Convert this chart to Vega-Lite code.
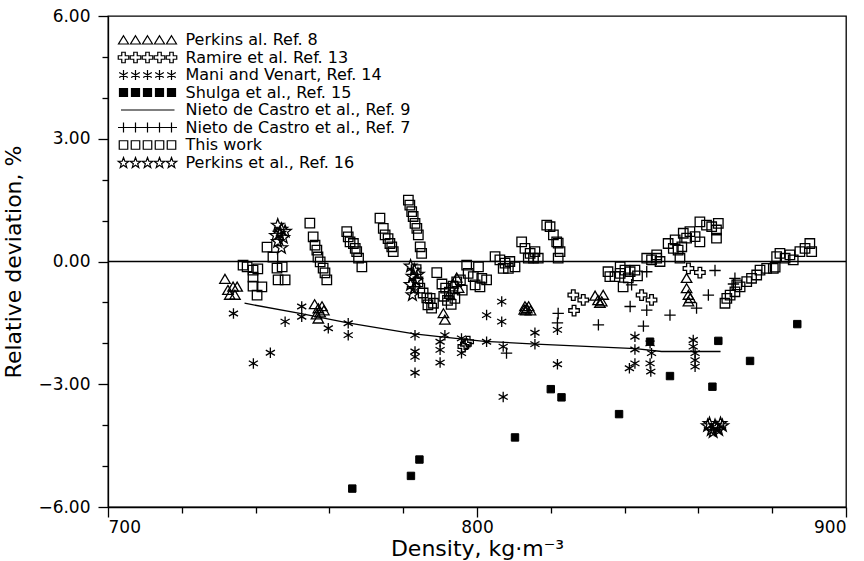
{
  "$schema": "https://vega.github.io/schema/vega-lite/v6.json",
  "autosize": {"type": "none"},
  "padding": {"left": 108, "top": 16, "right": 18, "bottom": 54},
  "width": 738,
  "height": 491,
  "background": "white",
  "config": {
    "font": "DejaVu Sans",
    "view": {"stroke": "black", "strokeWidth": 1.3},
    "axis": {"domainColor": "black", "domainWidth": 1.3, "tickColor": "black", "tickWidth": 1.3, "labelColor": "black", "titleColor": "black", "labelFont": "DejaVu Sans", "titleFont": "DejaVu Sans", "labelFontSize": 17, "titleFontSize": 22, "titleFontWeight": "normal", "grid": false, "labelOverlap": false}
  },
  "datasets": {
    "tw": [
      {"d":736.6,"v":-0.09},{"d":737.7,"v":-0.13},{"d":739.3,"v":-0.21},{"d":740.6,"v":-0.18},{"d":739.3,"v":-0.38},{"d":739.3,"v":-0.6},{"d":741.7,"v":-0.62},{"d":740.4,"v":-0.82},{"d":743.1,"v":0.35},{"d":744.7,"v":0.11},{"d":745.8,"v":-0.16},{"d":747.2,"v":-0.13},{"d":746.1,"v":-0.45},{"d":748,"v":-0.45},
      {"d":754.7,"v":0.94},{"d":755.6,"v":0.6},{"d":756.1,"v":0.4},{"d":756.6,"v":0.28},{"d":756.9,"v":0.11},{"d":757.5,"v":-0.01},{"d":758.3,"v":-0.16},{"d":758.8,"v":-0.28},{"d":759.3,"v":-0.45},
      {"d":764.7,"v":0.73},{"d":765.1,"v":0.6},{"d":765.6,"v":0.48},{"d":766.5,"v":0.44},{"d":767,"v":0.32},{"d":767.4,"v":0.24},{"d":767.9,"v":0.08},{"d":768.8,"v":-0.13},
      {"d":773.7,"v":1.06},{"d":774.6,"v":0.81},{"d":775.1,"v":0.65},{"d":775.9,"v":0.56},{"d":776.4,"v":0.44},{"d":776.9,"v":0.36},{"d":777.3,"v":0.24},
      {"d":781.4,"v":1.5},{"d":781.8,"v":1.38},{"d":782.3,"v":1.22},{"d":782.7,"v":1.1},{"d":783.2,"v":0.93},{"d":783.7,"v":0.81},{"d":784.1,"v":0.65},{"d":784.6,"v":0.36},{"d":785,"v":0.2},{"d":783.5,"v":-0.2},{"d":784,"v":-0.5},{"d":784.5,"v":-0.65},{"d":785.4,"v":-0.77},{"d":786.4,"v":-0.89},{"d":786.7,"v":-1.06},{"d":787.3,"v":-0.9},{"d":788.2,"v":-1.02},{"d":787.7,"v":-1.14},{"d":789.1,"v":-0.27},
      {"d":790.5,"v":-0.55},{"d":791.5,"v":-0.65},{"d":792.5,"v":-0.75},{"d":793.5,"v":-0.6},{"d":794.5,"v":-0.5},{"d":795.5,"v":-0.45},{"d":792,"v":-0.95},{"d":793,"v":-1.05},{"d":791,"v":-0.85},{"d":796,"v":-0.7},{"d":794,"v":-0.9},
      {"d":797.2,"v":-0.09},{"d":797.6,"v":-0.29},{"d":799,"v":-0.37},{"d":800.4,"v":-0.13},{"d":801.3,"v":-0.41},{"d":802.6,"v":-0.45},{"d":799.5,"v":-0.57},{"d":800.8,"v":-0.62},
      {"d":804.9,"v":0.12},{"d":806.2,"v":0.04},{"d":807.6,"v":-0.04},{"d":808.9,"v":0},{"d":810.3,"v":-0.13},{"d":807.1,"v":-0.17},{"d":808.5,"v":-0.17},
      {"d":812.1,"v":0.48},{"d":813,"v":0.32},{"d":814.4,"v":0.2},{"d":815.7,"v":0.24},{"d":813.9,"v":0.08},{"d":815.3,"v":0.08},{"d":816.6,"v":0.08},
      {"d":818.9,"v":0.89},{"d":819.8,"v":0.85},{"d":820.7,"v":0.65},{"d":821.6,"v":0.48},{"d":822,"v":0.45},{"d":822.5,"v":0.24},{"d":822,"v":0.08},
      {"d":835.5,"v":-0.25},{"d":836,"v":-0.37},{"d":837.4,"v":-0.37},{"d":838.8,"v":-0.29},{"d":840.1,"v":-0.21},{"d":841.5,"v":-0.25},{"d":842.8,"v":-0.21},{"d":839.6,"v":-0.62},{"d":838.8,"v":-0.13},{"d":843.5,"v":-0.35},{"d":841,"v":-0.4},
      {"d":846,"v":0.08},{"d":847.3,"v":0.04},{"d":848.7,"v":0.08},{"d":849.6,"v":0},{"d":848.7,"v":0.16},
      {"d":851.8,"v":0.44},{"d":853.2,"v":0.32},{"d":854.5,"v":0.28},{"d":855.5,"v":0.36},{"d":855,"v":0.08},{"d":853.7,"v":0.53},
      {"d":855.9,"v":0.69},{"d":857.7,"v":0.73},{"d":859.1,"v":0.61},{"d":860.4,"v":0.48},{"d":856.8,"v":0.57},
      {"d":860.4,"v":0.97},{"d":862.2,"v":0.89},{"d":863.6,"v":0.85},{"d":864.9,"v":0.77},{"d":865.4,"v":0.93},{"d":864.9,"v":0.57},
      {"d":867.2,"v":-1.02},{"d":867.7,"v":-0.9},{"d":868.6,"v":-0.82},{"d":869.9,"v":-0.74},{"d":870.4,"v":-0.57},{"d":871.3,"v":-0.62},{"d":873.1,"v":-0.49},{"d":874.4,"v":-0.41},{"d":875.8,"v":-0.33},{"d":876.7,"v":-0.21},{"d":878.5,"v":-0.17},{"d":880.3,"v":-0.17},{"d":880.8,"v":-0.14},{"d":881.2,"v":0.12},{"d":882.1,"v":0.2},{"d":883.5,"v":0.08},{"d":884.8,"v":0.16},{"d":885.7,"v":0.04},{"d":887.5,"v":0.24},{"d":888.9,"v":0.32},{"d":890.2,"v":0.44},{"d":890.7,"v":0.24}
    ],
    "p8": [
      {"d":731.7,"v":-0.43},{"d":732.5,"v":-0.7},{"d":733.9,"v":-0.62},{"d":735,"v":-0.62},{"d":733,"v":-0.82},{"d":734.4,"v":-0.82},
      {"d":756,"v":-1.05},{"d":757,"v":-1.15},{"d":758,"v":-1.1},{"d":756.5,"v":-1.3},{"d":757.5,"v":-1.25},{"d":758.5,"v":-1.2},{"d":757,"v":-1.4},
      {"d":790.9,"v":-1.27},{"d":791.3,"v":-1.43},{"d":794.5,"v":-0.4},{"d":793.5,"v":-0.55},{"d":795,"v":-0.65},{"d":792.5,"v":-0.8},
      {"d":813,"v":-1.1},{"d":813.5,"v":-1.15},{"d":814,"v":-1.1},{"d":813.2,"v":-1.2},{"d":814.5,"v":-1.2},{"d":812.8,"v":-1.18},
      {"d":832,"v":-0.84},{"d":834.2,"v":-0.82},{"d":833.3,"v":-1.02},{"d":832.8,"v":-0.95},{"d":833.8,"v":-0.98},
      {"d":856.8,"v":-0.41},{"d":856.8,"v":-0.66},{"d":857.3,"v":-0.82},{"d":857.3,"v":-0.98},{"d":857.8,"v":-0.9}
    ],
    "r13": [
      {"d":796.3,"v":-2.08},{"d":797.6,"v":-1.96},{"d":797,"v":-2.02},
      {"d":826.1,"v":-0.82},{"d":828.8,"v":-0.94},{"d":826.3,"v":-1.2},
      {"d":844.6,"v":-0.82},{"d":847.3,"v":-0.94},{"d":857.3,"v":-0.17},{"d":860.4,"v":-0.27}
    ],
    "m14": [
      {"d":734,"v":-1.27},{"d":739.4,"v":-2.49},{"d":744,"v":-2.23},{"d":748,"v":-1.47},{"d":752.5,"v":-1.1},{"d":752.5,"v":-1.35},{"d":759.7,"v":-1.63},{"d":765.1,"v":-1.51},{"d":765.1,"v":-1.8},
      {"d":783.2,"v":-1.8},{"d":783.2,"v":-2.2},{"d":783.2,"v":-2.33},{"d":783.2,"v":-2.72},{"d":790,"v":-1.96},{"d":790,"v":-2.16},{"d":790,"v":-2.47},{"d":791.3,"v":-1.8},{"d":795.8,"v":-1.88},{"d":795.8,"v":-2.24},
      {"d":802.6,"v":-1.96},{"d":802.6,"v":-1.31},{"d":806.7,"v":-0.98},{"d":806.7,"v":-1.47},{"d":807.1,"v":-2.08},{"d":807.1,"v":-3.31},{"d":815.7,"v":-1.74},{"d":815.7,"v":-2.02},{"d":821.8,"v":-1.67},{"d":821.8,"v":-2.51},
      {"d":842.8,"v":-1.84},{"d":842.8,"v":-2.15},{"d":842.8,"v":-2.49},{"d":841.3,"v":-2.61},{"d":846.9,"v":-2.0},{"d":847.3,"v":-2.24},{"d":846.9,"v":-2.49},{"d":847.1,"v":-2.69},
      {"d":858.6,"v":-1.92},{"d":858.6,"v":-2.08},{"d":859.1,"v":-2.24},{"d":859.1,"v":-2.41},{"d":859.1,"v":-2.57}
    ],
    "s15": [
      {"d":766.2,"v":-5.55},{"d":782.1,"v":-5.24},{"d":784.4,"v":-4.84},{"d":810.3,"v":-4.3},{"d":820,"v":-3.12},{"d":822.9,"v":-3.32},{"d":838.5,"v":-3.73},{"d":846.9,"v":-1.96},{"d":852.3,"v":-2.8},{"d":863.8,"v":-3.06},{"d":865.4,"v":-1.94},{"d":874,"v":-2.43},{"d":886.8,"v":-1.53}
    ],
    "n9": [
      {"d":737,"v":-1.02},{"d":752,"v":-1.27},{"d":765,"v":-1.5},{"d":783,"v":-1.77},{"d":791,"v":-1.85},{"d":802,"v":-1.95},{"d":816,"v":-2.02},{"d":843,"v":-2.13},{"d":850,"v":-2.2},{"d":866,"v":-2.2}
    ],
    "n7": [
      {"d":808,"v":-2.24},{"d":821.8,"v":-1.5},{"d":822,"v":-1.27},{"d":832.9,"v":-1.55},{"d":841.5,"v":-1.1},{"d":845.1,"v":-1.58},{"d":846,"v":-1.19},{"d":852.3,"v":-1.31},{"d":841.9,"v":-0.57},{"d":846,"v":-0.25},{"d":859.5,"v":-1.14},{"d":862.7,"v":-0.82},{"d":864.5,"v":-0.22},{"d":869.9,"v":-0.41},{"d":869.5,"v":-0.55}
    ],
    "p16": [
      {"d":746,"v":0.9},{"d":747,"v":0.8},{"d":746.5,"v":0.7},{"d":747.5,"v":0.6},{"d":746,"v":0.5},{"d":747,"v":0.35},{"d":748,"v":0.75},{"d":745.5,"v":0.65},
      {"d":782,"v":-0.1},{"d":783,"v":-0.2},{"d":782.5,"v":-0.35},{"d":783.5,"v":-0.45},{"d":782,"v":-0.55},{"d":783,"v":-0.65},{"d":784,"v":-0.3},{"d":782.5,"v":-0.8},
      {"d":862.5,"v":-4.0},{"d":863.5,"v":-4.1},{"d":864.5,"v":-4.0},{"d":865.5,"v":-4.1},{"d":866.5,"v":-4.0},{"d":864,"v":-4.15},{"d":866,"v":-3.95},{"d":863,"v":-3.95},{"d":865,"v":-4.05}
    ],
    "zero": [{"v": 0}],
    "legend": [
      {"s": "Perkins al. Ref. 8"}, {"s": "Ramire et al. Ref. 13"}, {"s": "Mani and Venart, Ref. 14"}, {"s": "Shulga et al., Ref. 15"}, {"s": "Nieto de Castro et al., Ref. 9"}, {"s": "Nieto de Castro et al., Ref. 7"}, {"s": "This work"}, {"s": "Perkins et al., Ref. 16"}
    ]
  },
  "layer": [
    {
      "data": {"name": "zero"},
      "mark": {"type": "rule", "color": "black", "strokeWidth": 1.3},
      "encoding": {"y": {"field": "v", "type": "quantitative"}}
    },
    {
      "data": {"name": "tw"},
      "mark": {"type": "point", "shape": "square", "size": 90, "filled": false, "stroke": "black", "strokeWidth": 1.3, "opacity": 1},
      "encoding": {
        "x": {"field": "d", "type": "quantitative", "scale": {"domain": [700, 900], "nice": false, "zero": false},
          "axis": {"title": "Density, kg·m⁻³", "values": [700,710,720,730,740,750,760,770,780,790,800,810,820,830,840,850,860,870,880,890,900],
            "labelExpr": "datum.value % 50 === 0 ? datum.label : ''", "format": "d",
            "tickSize": {"condition": {"test": "datum.value % 50 === 0", "value": 10}, "value": 6},
            "labelPadding": 2, "titlePadding": 3}},
        "y": {"field": "v", "type": "quantitative", "scale": {"domain": [-6, 6], "nice": false, "zero": false},
          "axis": {"title": "Relative deviation, %", "values": [-6,-5.5,-5,-4.5,-4,-3.5,-3,-2.5,-2,-1.5,-1,-0.5,0,0.5,1,1.5,2,2.5,3,3.5,4,4.5,5,5.5,6],
            "labelExpr": "datum.value % 3 === 0 ? format(datum.value, '.2f') : ''",
            "tickSize": {"condition": {"test": "datum.value % 3 === 0", "value": 10}, "value": 6},
            "labelPadding": 8, "titlePadding": 12}}
      }
    },
    {
      "data": {"name": "n9"},
      "mark": {"type": "line", "color": "black", "strokeWidth": 1.3},
      "encoding": {"x": {"field": "d", "type": "quantitative"}, "y": {"field": "v", "type": "quantitative"}}
    },
    {
      "data": {"name": "p8"},
      "mark": {"type": "point", "shape": "M0,-0.9L1,0.8L-1,0.8Z", "size": 110, "filled": false, "stroke": "black", "strokeWidth": 1.3, "opacity": 1},
      "encoding": {"x": {"field": "d", "type": "quantitative"}, "y": {"field": "v", "type": "quantitative"}}
    },
    {
      "data": {"name": "r13"},
      "mark": {"type": "point", "shape": "M-0.35,-1L0.35,-1L0.35,-0.35L1,-0.35L1,0.35L0.35,0.35L0.35,1L-0.35,1L-0.35,0.35L-1,0.35L-1,-0.35L-0.35,-0.35Z", "size": 110, "filled": false, "stroke": "black", "strokeWidth": 1.3, "opacity": 1},
      "encoding": {"x": {"field": "d", "type": "quantitative"}, "y": {"field": "v", "type": "quantitative"}}
    },
    {
      "data": {"name": "m14"},
      "mark": {"type": "point", "shape": "M0,-1L0,1M-0.87,-0.5L0.87,0.5M-0.87,0.5L0.87,-0.5", "size": 110, "filled": false, "stroke": "black", "strokeWidth": 1.3, "opacity": 1},
      "encoding": {"x": {"field": "d", "type": "quantitative"}, "y": {"field": "v", "type": "quantitative"}}
    },
    {
      "data": {"name": "s15"},
      "mark": {"type": "point", "shape": "square", "size": 55, "filled": true, "fill": "black", "stroke": "black", "strokeWidth": 1, "opacity": 1},
      "encoding": {"x": {"field": "d", "type": "quantitative"}, "y": {"field": "v", "type": "quantitative"}}
    },
    {
      "data": {"name": "n7"},
      "mark": {"type": "point", "shape": "M0,-1L0,1M-1,0L1,0", "size": 130, "filled": false, "stroke": "black", "strokeWidth": 1.3, "opacity": 1},
      "encoding": {"x": {"field": "d", "type": "quantitative"}, "y": {"field": "v", "type": "quantitative"}}
    },
    {
      "data": {"name": "p16"},
      "mark": {"type": "point", "shape": "M0,-1L0.265,-0.264L1.046,-0.24L0.428,0.239L0.647,0.99L0,0.55L-0.647,0.99L-0.428,0.239L-1.046,-0.24L-0.265,-0.264Z", "size": 140, "filled": false, "stroke": "black", "strokeWidth": 1.3, "opacity": 1},
      "encoding": {"x": {"field": "d", "type": "quantitative"}, "y": {"field": "v", "type": "quantitative"}}
    },
    {
      "data": {"name": "legend"},
      "transform": [{"filter": "false"}],
      "mark": {"type": "point", "filled": true, "strokeWidth": 1.2, "opacity": 1},
      "encoding": {
        "fill": {"field": "s", "type": "nominal",
          "scale": {
            "domain": ["Perkins al. Ref. 8", "Ramire et al. Ref. 13", "Mani and Venart, Ref. 14", "Shulga et al., Ref. 15", "Nieto de Castro et al., Ref. 9", "Nieto de Castro et al., Ref. 7", "This work", "Perkins et al., Ref. 16"],
            "range": ["transparent", "transparent", "transparent", "black", "transparent", "transparent", "transparent", "transparent"]
          },
          "legend": {"orient": "none", "legendX": 7.5, "legendY": 16, "direction": "vertical", "title": null, "padding": 0,
            "symbolSize": 100, "symbolStrokeWidth": 1.2,
            "labelFont": "DejaVu Sans", "labelFontSize": 16, "labelColor": "black", "labelOffset": 54, "labelLimit": 500, "rowPadding": 1.5}
        },
        "stroke": {"field": "s", "type": "nominal",
          "scale": {
            "domain": ["Perkins al. Ref. 8", "Ramire et al. Ref. 13", "Mani and Venart, Ref. 14", "Shulga et al., Ref. 15", "Nieto de Castro et al., Ref. 9", "Nieto de Castro et al., Ref. 7", "This work", "Perkins et al., Ref. 16"],
            "range": ["black", "black", "black", "black", "black", "black", "black", "black"]
          },
          "legend": {"orient": "none", "legendX": 7.5, "legendY": 16, "direction": "vertical", "title": null, "padding": 0,
            "symbolSize": 100, "symbolStrokeWidth": 1.2,
            "labelFont": "DejaVu Sans", "labelFontSize": 16, "labelColor": "black", "labelOffset": 54, "labelLimit": 500, "rowPadding": 1.5}
        },
        "shape": {"field": "s", "type": "nominal",
          "scale": {
            "domain": ["Perkins al. Ref. 8", "Ramire et al. Ref. 13", "Mani and Venart, Ref. 14", "Shulga et al., Ref. 15", "Nieto de Castro et al., Ref. 9", "Nieto de Castro et al., Ref. 7", "This work", "Perkins et al., Ref. 16"],
            "range": [
              "M0,-0.85L1,0.8L-1,0.8ZM2.4,-0.85L3.4,0.8L1.4,0.8ZM4.8,-0.85L5.8,0.8L3.8,0.8ZM7.2,-0.85L8.2,0.8L6.2,0.8ZM9.6,-0.85L10.6,0.8L8.6,0.8Z",
              "M-0.35,-1.05L0.35,-1.05L0.35,-0.35L1.05,-0.35L1.05,0.35L0.35,0.35L0.35,1.05L-0.35,1.05L-0.35,0.35L-1.05,0.35L-1.05,-0.35L-0.35,-0.35ZM2.05,-1.05L2.75,-1.05L2.75,-0.35L3.45,-0.35L3.45,0.35L2.75,0.35L2.75,1.05L2.05,1.05L2.05,0.35L1.35,0.35L1.35,-0.35L2.05,-0.35ZM4.45,-1.05L5.15,-1.05L5.15,-0.35L5.85,-0.35L5.85,0.35L5.15,0.35L5.15,1.05L4.45,1.05L4.45,0.35L3.75,0.35L3.75,-0.35L4.45,-0.35ZM6.85,-1.05L7.55,-1.05L7.55,-0.35L8.25,-0.35L8.25,0.35L7.55,0.35L7.55,1.05L6.85,1.05L6.85,0.35L6.15,0.35L6.15,-0.35L6.85,-0.35ZM9.25,-1.05L9.95,-1.05L9.95,-0.35L10.65,-0.35L10.65,0.35L9.95,0.35L9.95,1.05L9.25,1.05L9.25,0.35L8.55,0.35L8.55,-0.35L9.25,-0.35Z",
              "M0,-1L0,1M-0.87,-0.5L0.87,0.5M-0.87,0.5L0.87,-0.5M2.4,-1L2.4,1M1.53,-0.5L3.27,0.5M1.53,0.5L3.27,-0.5M4.8,-1L4.8,1M3.93,-0.5L5.67,0.5M3.93,0.5L5.67,-0.5M7.2,-1L7.2,1M6.33,-0.5L8.07,0.5M6.33,0.5L8.07,-0.5M9.6,-1L9.6,1M8.73,-0.5L10.47,0.5M8.73,0.5L10.47,-0.5",
              "M-0.8,-0.8L0.8,-0.8L0.8,0.8L-0.8,0.8ZM1.6,-0.8L3.2,-0.8L3.2,0.8L1.6,0.8ZM4,-0.8L5.6,-0.8L5.6,0.8L4,0.8ZM6.4,-0.8L8,-0.8L8,0.8L6.4,0.8ZM8.8,-0.8L10.4,-0.8L10.4,0.8L8.8,0.8Z",
              "M-0.5,0L10.2,0",
              "M-1.1,0L10.7,0M0,-1L0,1M2.4,-1L2.4,1M4.8,-1L4.8,1M7.2,-1L7.2,1M9.6,-1L9.6,1",
              "M-0.85,-0.85L0.85,-0.85L0.85,0.85L-0.85,0.85ZM1.55,-0.85L3.25,-0.85L3.25,0.85L1.55,0.85ZM3.95,-0.85L5.65,-0.85L5.65,0.85L3.95,0.85ZM6.35,-0.85L8.05,-0.85L8.05,0.85L6.35,0.85ZM8.75,-0.85L10.45,-0.85L10.45,0.85L8.75,0.85Z",
              "M0,-1L0.265,-0.264L1.046,-0.24L0.428,0.239L0.647,0.99L0,0.55L-0.647,0.99L-0.428,0.239L-1.046,-0.24L-0.265,-0.264ZM2.4,-1L2.665,-0.264L3.446,-0.24L2.828,0.239L3.047,0.99L2.4,0.55L1.753,0.99L1.972,0.239L1.354,-0.24L2.135,-0.264ZM4.8,-1L5.065,-0.264L5.846,-0.24L5.228,0.239L5.447,0.99L4.8,0.55L4.153,0.99L4.372,0.239L3.754,-0.24L4.535,-0.264ZM7.2,-1L7.465,-0.264L8.246,-0.24L7.628,0.239L7.847,0.99L7.2,0.55L6.553,0.99L6.772,0.239L6.154,-0.24L6.935,-0.264ZM9.6,-1L9.865,-0.264L10.646,-0.24L10.028,0.239L10.247,0.99L9.6,0.55L8.953,0.99L9.172,0.239L8.554,-0.24L9.335,-0.264Z"
            ]
          },
          "legend": {"orient": "none", "legendX": 7.5, "legendY": 16, "direction": "vertical", "title": null, "padding": 0,
            "symbolSize": 100, "symbolStrokeWidth": 1.2,
            "labelFont": "DejaVu Sans", "labelFontSize": 16, "labelColor": "black", "labelOffset": 54, "labelLimit": 500, "rowPadding": 1.5}
        }
      }
    }
  ]
}
